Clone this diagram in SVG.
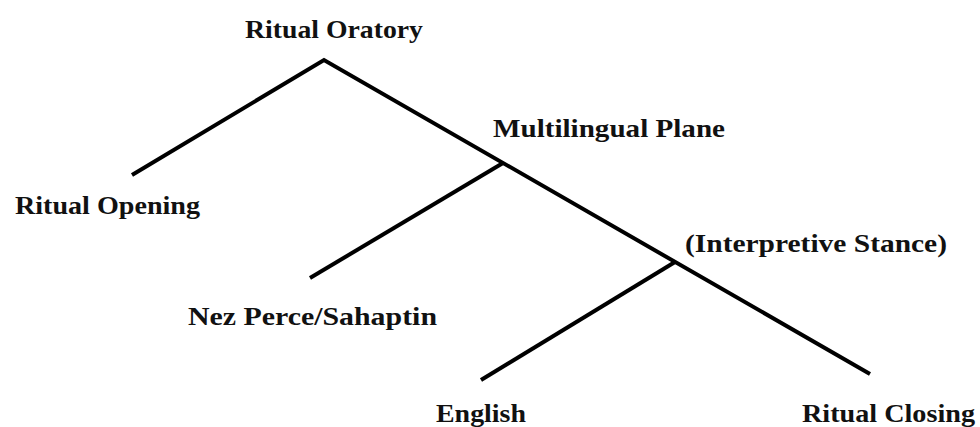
<svg xmlns="http://www.w3.org/2000/svg" width="980" height="427" viewBox="0 0 980 427">
<style>
.lbl{font-family:"Liberation Serif","DejaVu Serif",serif;font-weight:bold;font-size:25px;fill:#111}
.edge{stroke:#000;stroke-width:4;fill:none;stroke-linecap:butt}
</style>
<rect width="980" height="427" fill="#fff"/>
<g id="connectors">
<polyline class="edge" points="132,175 324,60 870,374"/>
<line class="edge" x1="503" y1="163" x2="310" y2="278"/>
<line class="edge" x1="675" y1="262" x2="481" y2="380"/>
</g>
<g id="ritual-oratory"><text class="lbl" x="245" y="38" textLength="178" lengthAdjust="spacingAndGlyphs">Ritual Oratory</text></g>
<g id="ritual-opening"><text class="lbl" x="15" y="214" textLength="185" lengthAdjust="spacingAndGlyphs">Ritual Opening</text></g>
<g id="multilingual-plane"><text class="lbl" x="493" y="137" textLength="232" lengthAdjust="spacingAndGlyphs">Multilingual Plane</text></g>
<g id="interpretive-stance"><text class="lbl" x="685" y="252" textLength="262" lengthAdjust="spacingAndGlyphs">(Interpretive Stance)</text></g>
<g id="nez-perce"><text class="lbl" x="188" y="325" textLength="249" lengthAdjust="spacingAndGlyphs">Nez Perce/Sahaptin</text></g>
<g id="english"><text class="lbl" x="436" y="422" textLength="90" lengthAdjust="spacingAndGlyphs">English</text></g>
<g id="ritual-closing"><text class="lbl" x="802" y="422" textLength="173" lengthAdjust="spacingAndGlyphs">Ritual Closing</text></g>
</svg>
